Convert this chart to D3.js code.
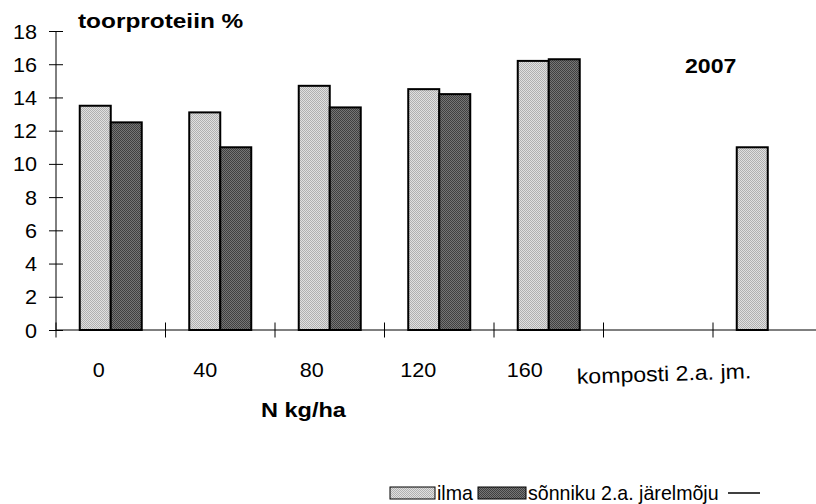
<!DOCTYPE html>
<html>
<head>
<meta charset="utf-8">
<script src="https://cdn.jsdelivr.net/npm/d3@7"></script>
<style>
  body { margin: 0; background: #fff; }
  text { font-family: "Liberation Sans", Arial, sans-serif; fill: #000; }
</style>
</head>
<body>
<svg id="chart" width="816" height="504"></svg>
<script>
// Crude protein content by N rate, 2007
const categories = ["0", "40", "80", "120", "160", "komposti 2.a. jm.", ""];
const ilmaValues = [13.5, 13.1, 14.7, 14.5, 16.2, null, 11.0];
const sonnikuValues = [12.5, 11.0, 13.4, 14.2, 16.3, null, null];
const yTickValues = [0, 2, 4, 6, 8, 10, 12, 14, 16, 18];
const seriesNames = ["ilma", "sõnniku 2.a. järelmõju"];
const titleText = "toorproteiin %";
const yearText = "2007";
const xTitleText = "N kg/ha";

const svg = d3.select("#chart");
const plot = { left: 56, right: 822.5, top: 31, bottom: 330 };

// hatched fills for the two bar series
const defs = svg.append("defs");
function checker(id, a, b) {
  const p = defs.append("pattern").attr("id", id)
    .attr("width", 2).attr("height", 2).attr("patternUnits", "userSpaceOnUse");
  p.append("rect").attr("width", 2).attr("height", 2).attr("fill", b);
  p.append("rect").attr("width", 1).attr("height", 1).attr("fill", a);
  p.append("rect").attr("x", 1).attr("y", 1).attr("width", 1).attr("height", 1).attr("fill", a);
}
checker("pLight", "#b0b0b0", "#e0e0e0");
checker("pDark", "#404040", "#767676");
const fills = ["url(#pLight)", "url(#pDark)"];

const idx = categories.map((_, i) => i);
const x = d3.scaleBand().domain(idx).range([plot.left, plot.right]).padding(0);
const xs = d3.scaleBand().domain([0, 1]).range([0, x.bandwidth()]).paddingInner(0).paddingOuter(0.766);
const y = d3.scaleLinear().domain([0, 18]).range([plot.bottom, plot.top]);

// text helper with slight horizontal widening
function txt(px, py, s, o = {}) {
  const sx = o.sx || 1.05;
  const rot = o.rot || 0;
  return svg.append("text")
    .attr("transform", `translate(${px},${py}) rotate(${rot}) scale(${sx},1)`)
    .attr("text-anchor", o.anchor || "start")
    .attr("font-size", o.size || 21)
    .attr("font-weight", o.bold ? "bold" : "normal")
    .text(s);
}

// bars
const series = [ilmaValues, sonnikuValues];
series.forEach((vals, si) => {
  svg.append("g").selectAll("rect")
    .data(vals.map((v, i) => ({ v, i })).filter(d => d.v != null))
    .join("rect")
    .attr("x", d => x(d.i) + xs(si))
    .attr("y", d => y(d.v))
    .attr("width", xs.bandwidth())
    .attr("height", d => y(0) - y(d.v))
    .attr("fill", fills[si])
    .attr("stroke", "#000")
    .attr("stroke-width", 2);
});

// y axis: ticks crossing the axis line
const yAxisL = d3.axisLeft(y).tickValues(yTickValues).tickSize(7).tickFormat("");
const yAxisR = d3.axisRight(y).tickValues(yTickValues).tickSize(7).tickFormat("");
const gyl = svg.append("g").attr("transform", `translate(${plot.left},0)`).call(yAxisL);
const gyr = svg.append("g").attr("transform", `translate(${plot.left},0)`).call(yAxisR);
gyl.select(".domain").attr("stroke", "#000").attr("d", `M0,${plot.top}V${plot.bottom}`);
gyr.select(".domain").remove();
svg.selectAll(".tick line").attr("stroke", "#000");
yTickValues.forEach(v => txt(plot.left - 19, y(v) + 7.5, String(v), { anchor: "end", sx: 1.03 }));

// x axis line and category boundary ticks
svg.append("line")
  .attr("x1", plot.left).attr("x2", plot.right)
  .attr("y1", y(0)).attr("y2", y(0))
  .attr("stroke", "#000");
svg.append("g").selectAll("line")
  .data(idx)
  .join("line")
  .attr("x1", d => x(d)).attr("x2", d => x(d))
  .attr("y1", y(0) - 7.5).attr("y2", y(0) + 7.5)
  .attr("stroke", "#000");

// category labels
categories.forEach((c, i) => {
  if (!c) return;
  const cx = x(i) + x.bandwidth() / 2;
  if (c.length > 4) {
    txt(cx + 6, 381, c, { anchor: "middle", sx: 1.1, rot: -1.8 });
  } else {
    txt(cx - 12 - 3 * i, 377, c, { anchor: "middle", sx: 1.03 });
  }
});

// titles
txt(78, 28, titleText, { bold: true, size: 20, sx: 1.22 });
txt(685, 73, yearText, { bold: true, size: 21, sx: 1.1 });
txt(261, 417, xTitleText, { bold: true, size: 21, sx: 1.12 });

// legend
const lg = svg.append("g");
const legendY = 487;
const items = [
  { x: 390, w: 45, fill: fills[0], label: seriesNames[0], tx: 437 },
  { x: 478, w: 48, fill: fills[1], label: seriesNames[1], tx: 528 }
];
items.forEach(it => {
  lg.append("rect").attr("x", it.x).attr("y", legendY).attr("width", it.w).attr("height", 12)
    .attr("fill", it.fill).attr("stroke", "#000").attr("stroke-width", 1);
  txt(it.tx, legendY + 13, it.label, { size: 20, sx: 0.98 });
});
lg.append("line").attr("x1", 728).attr("x2", 760)
  .attr("y1", legendY + 6).attr("y2", legendY + 6)
  .attr("stroke", "#000").attr("stroke-width", 1.5);
</script>
</body>
</html>
